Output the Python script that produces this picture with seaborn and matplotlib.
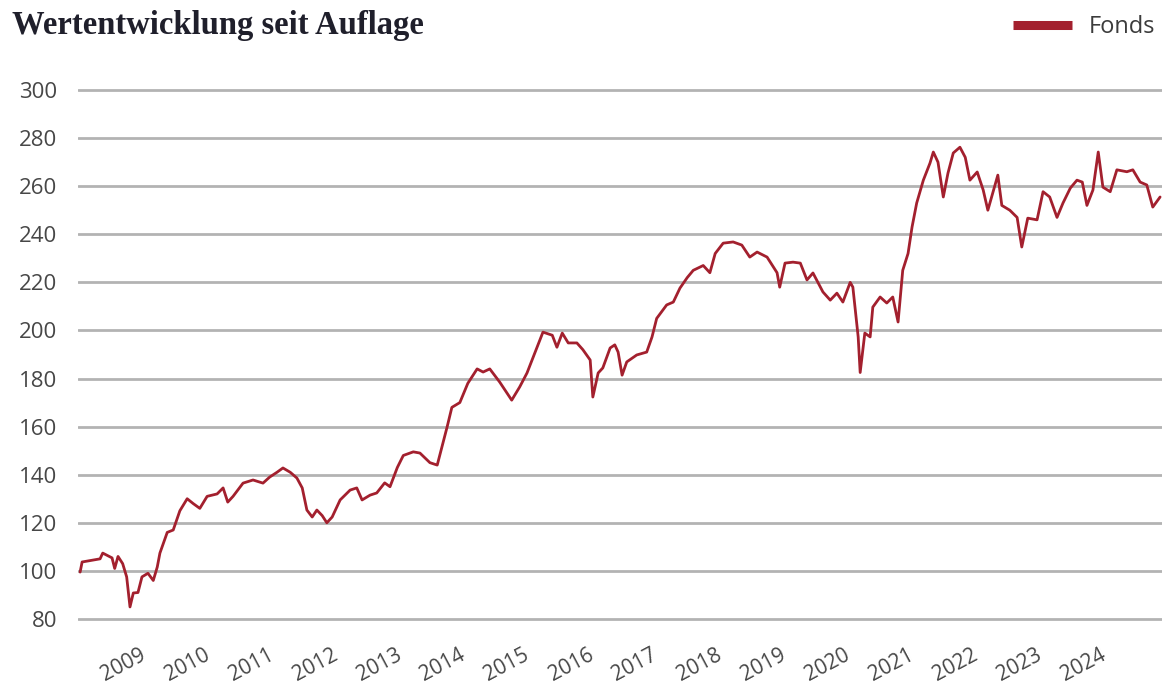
import numpy as np
import pandas as pd
import matplotlib
matplotlib.use("Agg")
import matplotlib.pyplot as plt
import seaborn as sns

# Fund value (indexed, launch = 100)
dates = [
    2008.48, 2008.51, 2008.78, 2008.82, 2008.96, 2009.00, 2009.05, 2009.12, 2009.18, 2009.23,
    2009.28, 2009.35, 2009.41, 2009.50, 2009.58, 2009.64, 2009.68, 2009.79, 2009.88, 2009.98,
    2010.09, 2010.18, 2010.28, 2010.39, 2010.54, 2010.63, 2010.70, 2010.78, 2010.93, 2011.08,
    2011.23, 2011.33, 2011.44, 2011.53, 2011.64, 2011.74, 2011.82, 2011.89, 2011.97, 2012.04,
    2012.12, 2012.19, 2012.27, 2012.39, 2012.54, 2012.64, 2012.72, 2012.84, 2012.94, 2013.06,
    2013.14, 2013.25, 2013.34, 2013.49, 2013.59, 2013.74, 2013.85, 2013.92, 2014.00, 2014.07,
    2014.19, 2014.31, 2014.45, 2014.54, 2014.64, 2014.79, 2014.97, 2015.09, 2015.20, 2015.35,
    2015.44, 2015.58, 2015.65, 2015.73, 2015.82, 2015.95, 2016.04, 2016.15, 2016.19, 2016.27,
    2016.34, 2016.45, 2016.52, 2016.57, 2016.63, 2016.70, 2016.85, 2017.00, 2017.08, 2017.15,
    2017.30, 2017.40, 2017.50, 2017.61, 2017.70, 2017.85, 2017.95, 2018.03, 2018.15, 2018.30,
    2018.43, 2018.55, 2018.66, 2018.81, 2018.96, 2019.00, 2019.08, 2019.20, 2019.31, 2019.41,
    2019.50, 2019.65, 2019.76, 2019.86, 2019.95, 2020.06, 2020.10, 2020.18, 2020.21, 2020.28,
    2020.36, 2020.40, 2020.51, 2020.61, 2020.70, 2020.78, 2020.85, 2020.93, 2020.99, 2021.06,
    2021.16, 2021.26, 2021.31, 2021.38, 2021.46, 2021.53, 2021.61, 2021.71, 2021.79, 2021.86,
    2021.97, 2022.06, 2022.13, 2022.21, 2022.28, 2022.34, 2022.46, 2022.57, 2022.64, 2022.73,
    2022.87, 2022.96, 2023.06, 2023.17, 2023.26, 2023.37, 2023.47, 2023.55, 2023.62, 2023.71,
    2023.79, 2023.86, 2023.97, 2024.07, 2024.22, 2024.31, 2024.42, 2024.52, 2024.61, 2024.72,
]
fonds = [
    99.5, 103.7, 105.0, 107.4, 105.4, 101.0, 106.0, 103.0, 97.5, 85.0,
    90.8, 91.0, 97.5, 99.0, 96.0, 101.6, 107.4, 116.0, 117.0, 125.0,
    130.0, 128.0, 126.0, 131.0, 132.0, 134.5, 128.6, 131.0, 136.5, 137.8,
    136.5, 139.0, 141.0, 142.8, 141.0, 138.6, 134.5, 125.3, 122.4, 125.3,
    123.0, 120.0, 122.4, 129.5, 133.6, 134.5, 129.5, 131.5, 132.4, 136.6,
    135.0, 143.0, 148.0, 149.5, 149.0, 145.0, 144.0, 151.5, 160.0, 168.0,
    170.0, 178.0, 184.0, 182.7, 184.0, 178.5, 171.0, 176.5, 182.3, 193.0,
    199.3, 198.0, 193.0, 198.9, 194.8, 194.8, 192.0, 187.7, 172.3, 182.3,
    184.4, 192.7, 194.0, 191.0, 181.4, 186.9, 189.8, 191.0, 197.3, 205.0,
    210.6, 211.8, 217.6, 222.0, 225.0, 227.0, 224.0, 232.0, 236.3, 236.8,
    235.5, 230.5, 232.6, 230.5, 224.0, 218.0, 228.0, 228.4, 228.0, 221.0,
    223.9, 216.0, 212.6, 215.5, 211.8, 220.0, 218.0, 197.3, 182.5, 198.9,
    197.3, 209.7, 213.9, 211.4, 213.9, 203.5, 225.0, 232.0, 243.0, 253.0,
    262.5, 269.6, 274.2, 270.0, 255.5, 265.4, 273.8, 276.2, 272.0, 262.5,
    265.9, 258.4, 250.0, 257.7, 264.6, 252.0, 250.0, 247.0, 234.7, 246.7,
    246.0, 257.7, 255.5, 247.0, 253.0, 259.2, 262.5, 261.7, 252.0, 258.4,
    274.2, 259.6, 257.7, 266.8, 266.0, 266.8, 261.7, 260.5, 251.3, 255.5,
]
year_labels = [str(y) for y in range(2009, 2025)]
y_ticks = list(range(80, 301, 20))

df = pd.DataFrame({"Datum": dates, "Fonds": fonds})

sns.set_style("white")
plt.rcParams["font.family"] = ["Open Sans", "DejaVu Sans"]

fig = plt.figure(figsize=(11.64, 6.92), dpi=100)
ax = fig.add_axes([0.067, 0.0986, 0.9313, 0.7783])

sns.lineplot(data=df, x="Datum", y="Fonds", ax=ax, color="#a3202e",
             linewidth=2.0, label="Fonds", zorder=3)

ax.set_xlim(2008.448, 2024.749)
ax.set_ylim(78, 302)
ax.set_yticks(y_ticks)
ax.yaxis.grid(True, color="#b3b3b3", linewidth=2.0)
ax.xaxis.grid(False)
for s in ax.spines.values():
    s.set_visible(False)

# year labels are evenly spaced and do not sit on the data's own year marks
ax.set_xticks(np.linspace(2009.125, 2023.56, len(year_labels)))
ax.set_xticklabels(year_labels, rotation=28, ha="center")
ax.tick_params(axis="x", length=0, pad=15, labelsize=15, labelcolor="#474747")
ax.tick_params(axis="y", length=0, pad=15, labelsize=16, labelcolor="#474747")
ax.set_xlabel("")
ax.set_ylabel("")

ax.get_legend().remove()
fig.legend(loc="upper right", bbox_to_anchor=(1155 / 1164, 1 - 15 / 692),
           frameon=False, fontsize=17, handlelength=2.5, handletextpad=0.7,
           borderpad=0, borderaxespad=0, labelcolor="#3c3c3c")
for h in fig.legends[0].legend_handles:
    h.set_linewidth(6.5)
    h.set_solid_capstyle("butt")

fig.text(12 / 1164, 1 - 34 / 692, "Wertentwicklung seit Auflage",
         fontsize=23.5, fontweight="bold", family="Liberation Serif",
         color="#1f1f2b", va="baseline", ha="left")

fig.savefig("out.png", dpi=100)
